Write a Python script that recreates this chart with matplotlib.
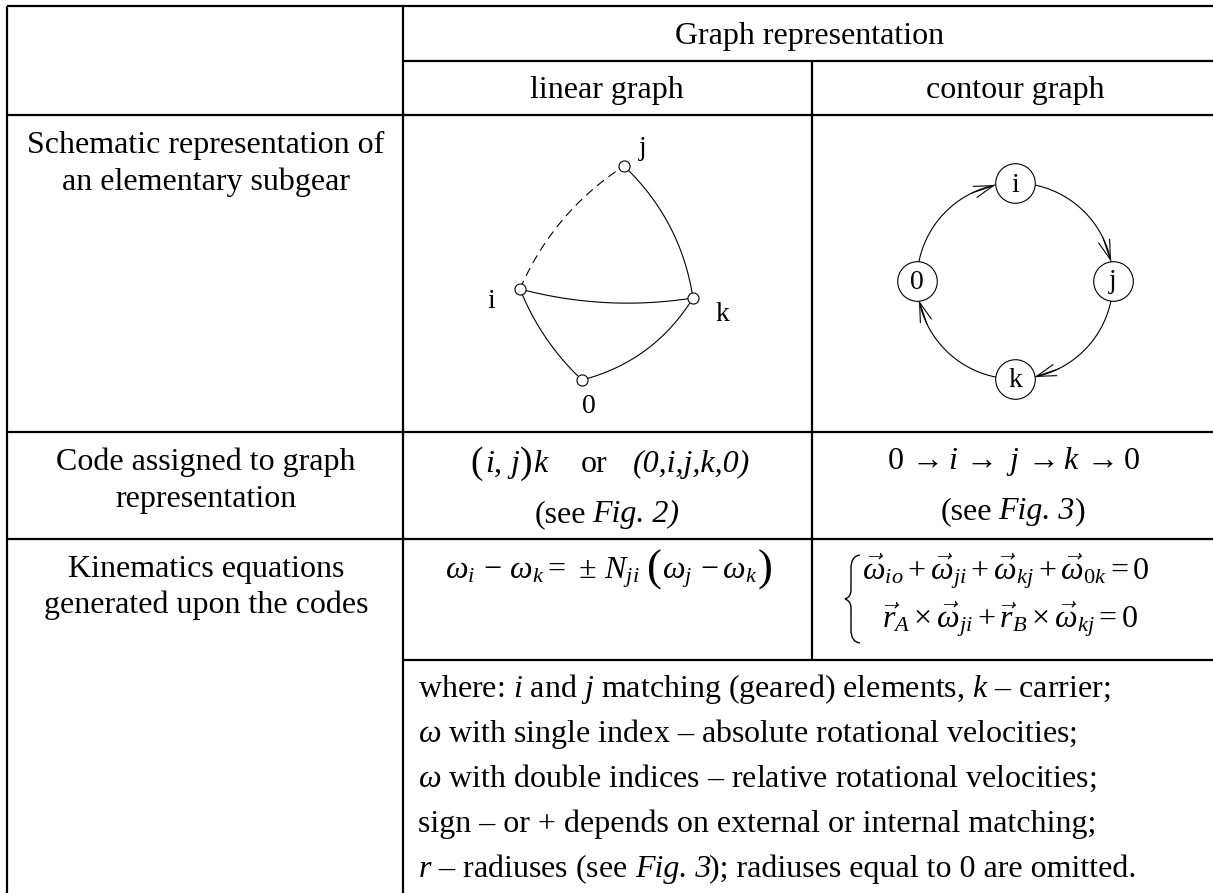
import matplotlib
matplotlib.use('Agg')
import matplotlib.pyplot as plt
from matplotlib.path import Path
from matplotlib.patches import PathPatch
import numpy as np

plt.rcParams['font.family'] = ['Liberation Serif', 'DejaVu Serif']
plt.rcParams['mathtext.fontset'] = 'custom'
plt.rcParams['mathtext.rm'] = 'Liberation Serif'
plt.rcParams['mathtext.it'] = 'Liberation Serif:italic'
plt.rcParams['mathtext.bf'] = 'Liberation Serif:bold'

FS = 23
LABEL_FS = 20

# table rules, in pixels
h_rules = [(7, 1213, 6), (403, 1213, 61), (7, 1213, 115), (7, 1213, 432), (7, 1213, 539), (403, 1213, 660)]
v_rules = [(7, 6, 893), (403, 6, 893), (812, 61, 660)]

# cell texts: text, x, baseline y
heads = [("Graph representation", 810, 44), ("linear graph", 607, 98), ("contour graph", 1015, 98)]
row_labels = [
    ("Schematic representation of", 153), ("an elementary subgear", 190),
    ("Code assigned to graph", 470), ("representation", 507),
    ("Kinematics equations", 577), ("generated upon the codes", 613),
]
eq_contour = [
    (r"$\vec{\omega}_{io} + \vec{\omega}_{ji} + \vec{\omega}_{kj} + \vec{\omega}_{0k} = 0$", 862, 580),
    (r"$\vec{r}_A \times \vec{\omega}_{ji} + \vec{r}_B \times \vec{\omega}_{kj} = 0$", 882, 628),
]
notes = [
    r"where: $i$ and $j$ matching (geared) elements, $k$ – carrier;",
    r"$\omega$ with single index – absolute rotational velocities;",
    r"$\omega$ with double indices – relative rotational velocities;",
    r"sign – or + depends on external or internal matching;",
]
note_y = [697, 742, 787, 832]
last_note = [(r"$r$ – radiuses (see", 418, 'normal'), ("Fig. 3", 635, 'italic'),
             ("); radiuses equal to 0 are omitted.", 709, 'normal')]
last_note_y = 877

# linear graph
lin_nodes = {'i': (520, 289), 'j': (624, 166), 'k': (693, 298), '0': (582, 380)}
lin_labels = {'i': (491, 308), 'j': (643, 155), 'k': (722, 321), '0': (589, 413)}
lin_edges = [('i', 'j', 0.15, True), ('j', 'k', 0.17, False), ('i', 'k', -0.105, False),
             ('i', '0', -0.11, False), ('0', 'k', -0.2, False)]

# contour graph
cont_center = (1015, 281)
cont_radius = 98
cont_nodes = ['i', 'j', 'k', '0']
cont_angles = [90, 0, -90, 180]
cont_baseline = [192, 288, 387, 289]


def arc(ax, p0, p1, bend, **kw):
    # quadratic curve from p0 to p1, bend is a fraction of the chord length
    p0, p1 = np.array(p0, float), np.array(p1, float)
    d = p1 - p0
    ctrl = (p0 + p1) / 2 + bend * np.array([d[1], -d[0]])
    t = np.linspace(0, 1, 60)[:, None]
    pts = (1 - t) ** 2 * p0 + 2 * t * (1 - t) * ctrl + t ** 2 * p1
    ax.plot(pts[:, 0], pts[:, 1], color='black', lw=0.8, zorder=2, **kw)


fig = plt.figure(figsize=(12.13, 8.93), dpi=100)
ax = fig.add_axes([0, 0, 1, 1])
ax.set_xlim(0, 1213)
ax.set_ylim(893, 0)
ax.axis('off')

for x0, x1, y in h_rules:
    ax.plot([x0, x1], [y, y], color='black', lw=1.6, solid_capstyle='butt')
for x, y0, y1 in v_rules:
    ax.plot([x, x], [y0, y1], color='black', lw=1.6, solid_capstyle='butt')


def put(x, y, s, ha='center', size=FS, **kw):
    ax.text(x, y, s, ha=ha, va='baseline', fontsize=size, color='black', **kw)


for s, x, y in heads:
    put(x, y, s)
for s, y in row_labels:
    put(206, y, s)

# code row, linear graph
put(470, 473, "(", ha='left', size=27)
put(485, 472, r"$i,\,j$", ha='left')
put(520, 473, ")", ha='left', size=27)
put(533, 472, r"$k$", ha='left')
put(581, 472, "or", ha='left')
put(633, 472, "(0,i,j,k,0)", ha='left', style='italic')
put(535, 522, "(see", ha='left')
put(592, 522, "Fig. 2)", ha='left', style='italic')

# code row, contour graph
put(1013, 469, r"$0\,\rightarrow i\,\rightarrow\ j\,\rightarrow k\,\rightarrow 0$")
put(941, 519, "(see", ha='left')
put(998, 519, "Fig. 3", ha='left', style='italic')
put(1075, 519, ")", ha='left')

# kinematics row
put(445, 578, r"$\omega_i\,-\,\omega_k=\,\pm\,N_{ji}$", ha='left')
put(647, 581, "(", ha='left', size=32)
put(662, 578, r"$\omega_j\,-\omega_k$", ha='left')
put(758, 581, ")", ha='left', size=32)
for s, x, y in eq_contour:
    put(x, y, s, ha='left')

# big brace in front of the two equations
brace = Path(
    [(860, 555), (851, 556), (851, 568), (851, 590), (851, 597), (845, 599),
     (851, 601), (851, 608), (851, 630), (851, 642), (860, 643)],
    [Path.MOVETO, Path.CURVE3, Path.CURVE3, Path.LINETO, Path.CURVE3, Path.CURVE3,
     Path.CURVE3, Path.CURVE3, Path.LINETO, Path.CURVE3, Path.CURVE3])
ax.add_patch(PathPatch(brace, fc='none', ec='black', lw=1.0))

for s, y in zip(notes, note_y):
    put(418, y, s, ha='left')
for s, x, style in last_note:
    put(x, last_note_y, s, ha='left', style=style)

# linear graph
for a, b, bend, dashed in lin_edges:
    arc(ax, lin_nodes[a], lin_nodes[b], bend, ls=(0, (8, 5)) if dashed else '-')
for n, (x, y) in lin_nodes.items():
    ax.plot(x, y, 'o', ms=8, mfc='white', mec='black', mew=0.8, zorder=3)
for n, (x, y) in lin_labels.items():
    put(x, y, n, size=LABEL_FS)

# contour graph
th = np.radians(np.linspace(0, 360, 361))
cx, cy = cont_center
ax.plot(cx + cont_radius * np.cos(th), cy - cont_radius * np.sin(th), color='black', lw=0.8, zorder=2)
for n, ang, base in zip(cont_nodes, cont_angles, cont_baseline):
    x = cx + cont_radius * np.cos(np.radians(ang))
    y = cy - cont_radius * np.sin(np.radians(ang))
    ax.plot(x, y, 'o', ms=28.5, mfc='white', mec='black', mew=0.8, zorder=3)
    put(x, base, n, size=LABEL_FS, zorder=4)
    # open arrow head just before the node, running clockwise
    tip = np.radians(ang + 11.6)
    tail = np.radians(ang + 26)
    ax.annotate('', xy=(cx + cont_radius * np.cos(tip), cy - cont_radius * np.sin(tip)),
                xytext=(cx + cont_radius * np.cos(tail), cy - cont_radius * np.sin(tail)),
                arrowprops=dict(arrowstyle='->,head_length=1,head_width=0.3', mutation_scale=14,
                                lw=0.8, color='black', shrinkA=0, shrinkB=0), zorder=4)

fig.savefig('out.png', dpi=100)
